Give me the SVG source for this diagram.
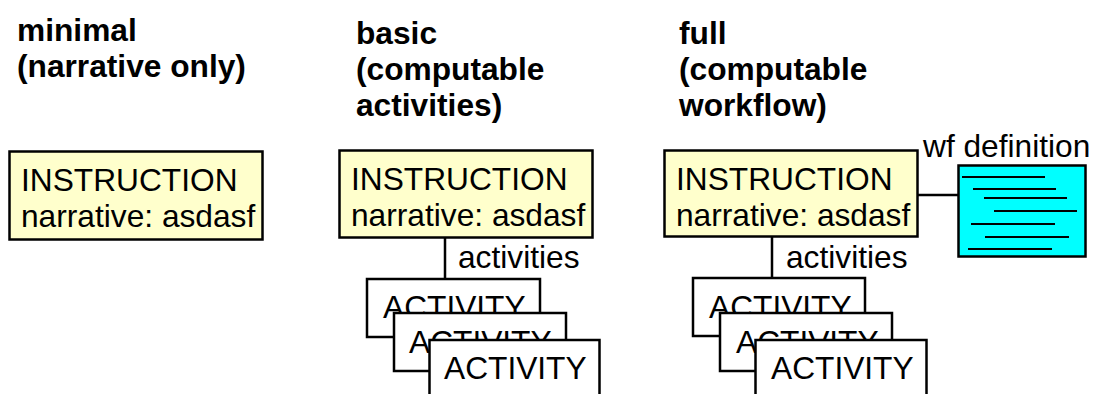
<svg xmlns="http://www.w3.org/2000/svg" width="1093" height="394" viewBox="0 0 1093 394">
<style>
text{font-family:"Liberation Sans",Arial,sans-serif;fill:#000;font-size:31.7px}
.t{font-weight:bold}
.n{font-kerning:none}
.y{fill:#ffffcc;stroke:#000;stroke-width:2.5}
.a{fill:#fff;stroke:#000;stroke-width:2.5}
.c{fill:none;stroke:#000;stroke-width:2.5}
.l{stroke:#000;stroke-width:2;fill:none}
</style>
<rect width="1093" height="394" fill="#fff"/>
<g id="title-minimal"><text class="t" x="17" y="41">minimal</text><text class="t" x="17" y="77">(narrative only)</text></g>
<g id="title-basic"><text class="t" x="356" y="44">basic</text><text class="t" x="356" y="80">(computable</text><text class="t" x="356" y="116">activities)</text></g>
<g id="title-full"><text class="t" x="679" y="44">full</text><text class="t" x="679" y="80">(computable</text><text class="t" x="679" y="116">workflow)</text></g>
<g id="connectors">
<path class="c" d="M445 238V279M772 237V278M918 195H960"/>
</g>
<g id="instruction-minimal"><rect class="y" x="9.500" y="151.500" width="253" height="88"/><text x="21" y="191">INSTRUCTION</text><text x="21" y="227">narrative: asdasf</text></g>
<g id="instruction-basic"><rect class="y" x="339.500" y="150.500" width="253" height="87"/><text x="351" y="190">INSTRUCTION</text><text x="351" y="226">narrative: asdasf</text></g>
<g id="instruction-full"><rect class="y" x="664.500" y="150.500" width="253" height="86"/><text x="676" y="190">INSTRUCTION</text><text x="676" y="226">narrative: asdasf</text></g>
<text id="label-activities-basic" x="458" y="268">activities</text>
<text id="label-activities-full" x="786" y="268">activities</text>
<g id="activity-b1"><rect class="a" x="367" y="279" width="173" height="58"/><text class="n" x="383" y="318">ACTIVITY</text></g>
<g id="activity-b2"><rect class="a" x="394" y="313" width="172" height="58"/><text class="n" x="409" y="353">ACTIVITY</text></g>
<g id="activity-b3"><rect class="a" x="429.500" y="340" width="170" height="70"/><text class="n" x="444" y="379">ACTIVITY</text></g>
<g id="activity-f1"><rect class="a" x="693" y="278" width="172" height="58"/><text class="n" x="709" y="318">ACTIVITY</text></g>
<g id="activity-f2"><rect class="a" x="720" y="313" width="172" height="58"/><text class="n" x="736" y="353">ACTIVITY</text></g>
<g id="activity-f3"><rect class="a" x="755.500" y="340" width="171" height="70"/><text class="n" x="771" y="379">ACTIVITY</text></g>
<g id="wf-definition">
<text x="923" y="157">wf definition</text>
<rect x="958.500" y="165.500" width="127" height="91" fill="#00ffff" stroke="#000" stroke-width="2.500"/>
<path class="l" d="M962 177H1045M973 189H1056M984 198H1067M994 211H1077M971 224H1055M985 237H1069M968 249H1052"/>
</g>
</svg>
